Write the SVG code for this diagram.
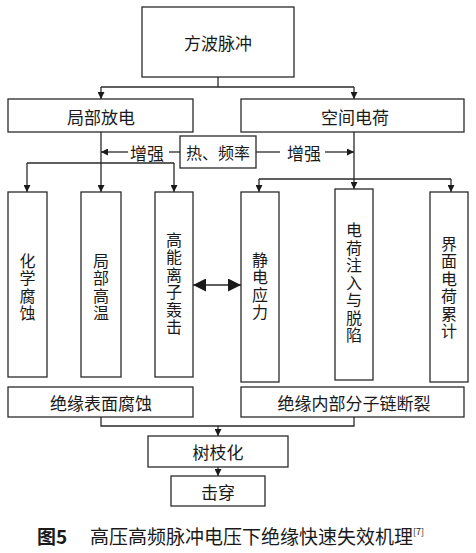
<svg xmlns="http://www.w3.org/2000/svg" width="476" height="553" viewBox="0 0 476 553">
<defs>
<marker id="ah" viewBox="0 0 10 10" refX="10" refY="5" markerWidth="7" markerHeight="7" markerUnits="userSpaceOnUse" orient="auto"><path d="M0,0 L10,5 L0,10 Z" fill="#1a1a1a"/></marker>
<marker id="big" viewBox="0 0 10 10" refX="10" refY="5" markerWidth="13" markerHeight="13" markerUnits="userSpaceOnUse" orient="auto-start-reverse"><path d="M0,0 L10,5 L0,10 Z" fill="#1a1a1a"/></marker>
</defs>
<style>
rect{fill:#fff;stroke:#2a2a2a;stroke-width:1.3}
text{font-family:"Noto Sans CJK SC","Noto Sans",sans-serif;font-size:17px;fill:#1a1a1a;text-anchor:middle;dominant-baseline:central}
.v{font-size:16px;writing-mode:vertical-rl;text-orientation:upright;letter-spacing:1.5px}
.c line,.c path{stroke:#2a2a2a;stroke-width:1.3;fill:none}
.cap{font-family:"Noto Sans CJK SC","Liberation Serif",serif;font-size:19px;dominant-baseline:alphabetic;text-anchor:start}
</style>
<rect x="0" y="0" width="476" height="553" style="fill:#fff;stroke:none"/>
<g class="c" id="connectors">
<path d="M218,77 V87 M101,87 H354"/>
<line x1="101" y1="87" x2="101" y2="99" marker-end="url(#ah)"/>
<line x1="354" y1="87" x2="354" y2="99" marker-end="url(#ah)"/>
<path d="M101,132 V163 M27,163 H174"/>
<line x1="27" y1="163" x2="27" y2="192" marker-end="url(#ah)"/>
<line x1="101" y1="163" x2="101" y2="192" marker-end="url(#ah)"/>
<line x1="174" y1="163" x2="174" y2="192" marker-end="url(#ah)"/>
<path d="M354,132 V179 M259,179 H451"/>
<line x1="259" y1="179" x2="259" y2="192" marker-end="url(#ah)"/>
<line x1="354" y1="179" x2="354" y2="189" marker-end="url(#ah)"/>
<line x1="451" y1="179" x2="451" y2="192" marker-end="url(#ah)"/>
<line x1="180" y1="152" x2="169" y2="152"/>
<line x1="128" y1="152" x2="101" y2="152" marker-end="url(#ah)"/>
<line x1="256" y1="152" x2="280" y2="152"/>
<line x1="325" y1="152" x2="354" y2="152" marker-end="url(#ah)"/>
<line x1="193" y1="285" x2="241" y2="285" marker-start="url(#big)" marker-end="url(#big)"/>
<path d="M101,417 V426 H354 V417"/>
<line x1="218" y1="426" x2="218" y2="436" marker-end="url(#ah)"/>
<line x1="218" y1="467" x2="218" y2="476" marker-end="url(#ah)"/>
</g>
<text x="147" y="152">增强</text>
<text x="304" y="152">增强</text>
<g id="n-square"><rect x="142" y="7" width="152" height="70"/><text x="218" y="42">方波脉冲</text></g>
<g id="n-pd"><rect x="8" y="99" width="185" height="33"/><text x="101" y="116">局部放电</text></g>
<g id="n-sc"><rect x="241" y="99" width="223" height="33"/><text x="355" y="116">空间电荷</text></g>
<g id="n-heat"><rect x="180" y="136" width="76" height="32"/><text x="218" y="152" style="font-size:16px">热、频率</text></g>
<g id="n-chem"><rect x="8" y="192" width="39" height="185"/><text class="v" x="27.5" y="287.5">化学腐蚀</text></g>
<g id="n-hot"><rect x="81" y="192" width="40" height="185"/><text class="v" x="101" y="287.5">局部高温</text></g>
<g id="n-ion"><rect x="155" y="192" width="38" height="185"/><text class="v" x="174" y="284">高能离子轰击</text></g>
<g id="n-static"><rect x="241" y="192" width="38" height="190"/><text class="v" x="260" y="286.5">静电应力</text></g>
<g id="n-inject"><rect x="335" y="189" width="38" height="191"/><text class="v" x="354" y="283.5">电荷注入与脱陷</text></g>
<g id="n-iface"><rect x="430" y="192" width="38" height="190"/><text class="v" x="449" y="288">界面电荷累计</text></g>
<g id="n-surf"><rect x="8" y="387" width="185" height="30"/><text x="101" y="402">绝缘表面腐蚀</text></g>
<g id="n-chain"><rect x="241" y="387" width="223" height="30"/><text x="354" y="402">绝缘内部分子链断裂</text></g>
<g id="n-tree"><rect x="148" y="436" width="140" height="31"/><text x="218" y="451">树枝化</text></g>
<g id="n-break"><rect x="171" y="476" width="94" height="30"/><text x="218" y="491">击穿</text></g>
<text class="cap" x="37" y="544"><tspan style="font-weight:bold">图5</tspan><tspan x="90">高压高频脉冲电压下绝缘快速失效机理</tspan><tspan style="font-size:9px" dy="-9">[7]</tspan></text>
</svg>
